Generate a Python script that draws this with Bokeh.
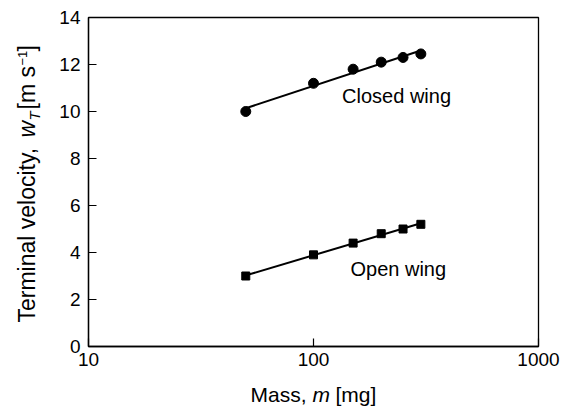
import numpy as np
from bokeh.plotting import figure
from bokeh.models import FixedTicker, BasicTickFormatter, Range1d
from bokeh.layouts import row, column
from bokeh.core.properties import value
from bokeh.embed import file_html
from bokeh.resources import INLINE

# ---- data ----
mass = [50, 100, 150, 200, 250, 300]            # mg
closed_wing = [10.0, 11.2, 11.8, 12.1, 12.3, 12.45]  # m/s
open_wing = [3.0, 3.9, 4.4, 4.8, 5.0, 5.2]           # m/s
x_ticks = [10, 100, 1000]
y_ticks = [0, 2, 4, 6, 8, 10, 12, 14]
series_labels = ["Closed wing", "Open wing"]
label_pos_x = [134, 146]
label_pos_y = [10.65, 3.28]

FONT = "Liberation Sans"
LW = 46            # width of the y-label strip
MW, MH = 520, 378  # main figure size
XH = 28            # height of the x-label strip
FT, FB = 17, 346   # frame top / bottom (page px)

def strip(w, h, yr):
    f = figure(width=w, height=h, x_range=Range1d(0, w), y_range=Range1d(*yr),
               output_backend="svg", toolbar_location=None,
               x_axis_location=None, y_axis_location=None,
               min_border=0, min_border_left=0, min_border_right=0,
               min_border_top=0, min_border_bottom=0)
    f.grid.visible = False
    f.outline_line_color = None
    f.background_fill_color = "white"
    f.border_fill_color = "white"
    return f

# ---- main plot ----
p = figure(width=MW, height=MH, x_axis_type="log",
           x_range=(10, 1000), y_range=(0, 14),
           output_backend="svg", toolbar_location=None,
           min_border_left=88 - LW, min_border_right=MW - (538 - LW),
           min_border_top=FT, min_border_bottom=MH - FB)
p.grid.visible = False
p.outline_line_color = "black"
p.outline_line_width = 1.3
p.background_fill_color = "white"
p.border_fill_color = "white"

for ax in (p.xaxis[0], p.yaxis[0]):
    ax.axis_line_color = "black"
    ax.axis_line_width = 1.3
    ax.major_tick_in = 8
    ax.major_tick_out = 0
    ax.major_tick_line_color = "black"
    ax.major_tick_line_width = 1.2
    ax.minor_tick_line_color = None
    ax.major_label_text_font = FONT
    ax.major_label_text_font_size = "19px"
    ax.major_label_text_color = "black"
    ax.axis_label = None

p.xaxis.ticker = FixedTicker(ticks=x_ticks, minor_ticks=[])
p.xaxis.formatter = BasicTickFormatter(use_scientific=False)
p.xaxis.major_label_standoff = 6
p.yaxis.ticker = FixedTicker(ticks=y_ticks, minor_ticks=[])
p.yaxis.major_label_standoff = 8

# fit lines (least squares in log10(mass))
lx = np.log10(mass)
for ys in (closed_wing, open_wing):
    a, b = np.polyfit(lx, ys, 1)
    xe = [mass[0], mass[-1]]
    p.line(xe, [a * np.log10(v) + b for v in xe], line_color="black", line_width=2)

p.scatter(mass, closed_wing, marker="circle", size=10, color="black")
p.scatter(mass, open_wing, marker="square", size=8, color="black")

p.text(label_pos_x, label_pos_y, text=series_labels, text_font=value(FONT),
       text_font_size="20px", text_color="black", text_baseline="middle",
       text_align="left")

# ---- y-label strip (rotated rich text); frame is aligned with the main frame ----
yl = strip(LW, MH, (MH - FB, MH - FT))
# (text, x_baseline, page_y_start, size_px, style)
ylab = [("Terminal velocity,", 35, 322, 23, "normal"),
        ("w", 35, 137, 23, "italic"),
        ("T", 39, 120, 15, "italic"),
        ("[m s", 35, 109, 23, "normal"),
        ("\u22121", 27, 65, 13, "normal"),
        ("]", 35, 51, 23, "normal")]
for t, bx, sy, sz, st in ylab:
    yl.text([bx - 0.35 * sz], [MH - sy], text=[t], angle=np.pi / 2,
            text_font=value(FONT), text_font_size=f"{sz}px", text_font_style=st,
            text_color="black", text_baseline="middle", text_align="left")

# ---- x-label strip ----
xl = strip(LW + MW, XH, (0, XH))
xlab = [("Mass,", 250, "normal"),
        ("m", 312, "italic"),
        ("[mg]", 335, "normal")]
XFS = 21
for t, sx, st in xlab:
    xl.text([sx], [XH - (401 - MH) + 0.35 * XFS], text=[t], text_font=value(FONT),
            text_font_size=f"{XFS}px", text_font_style=st, text_color="black",
            text_baseline="middle", text_align="left")

layout = column(row(yl, p, spacing=0), xl, spacing=0)
open("out.html", "w").write(file_html(layout, INLINE))
